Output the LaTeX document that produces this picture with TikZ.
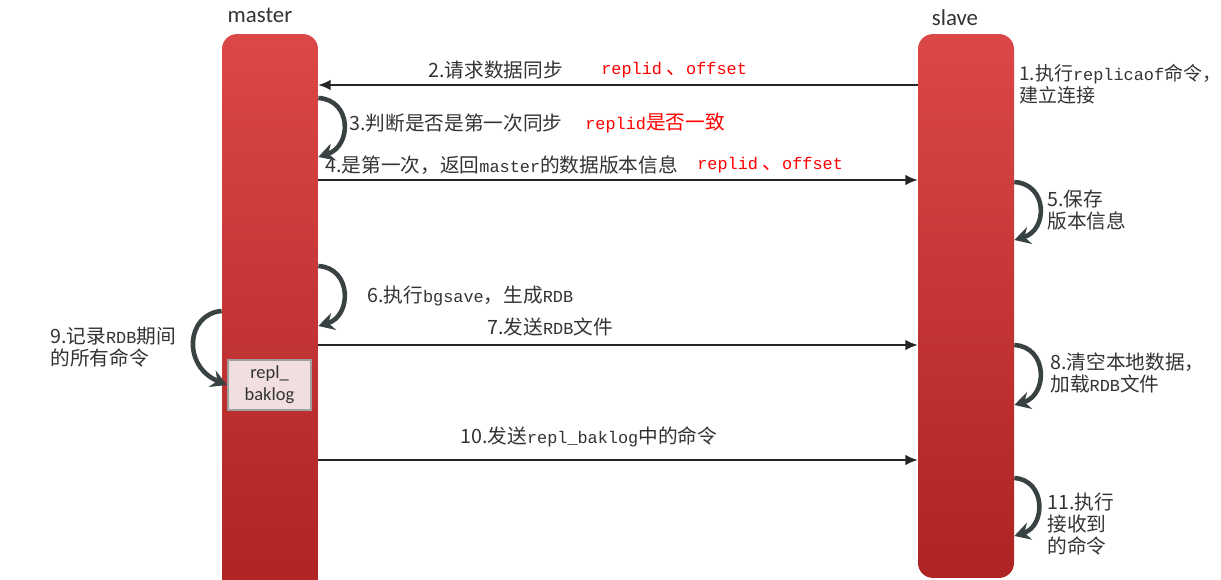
\documentclass[tikz,border=0pt]{standalone}
\usepackage{fontspec}
\setmainfont{Noto Sans CJK SC}
\setmonofont{Liberation Mono}
\newfontfamily\latfont{Carlito}
\usepackage{xcolor}
\usetikzlibrary{arrows.meta,positioning}
\definecolor{barTop}{HTML}{DC4747}
\definecolor{barBot}{HTML}{AE2323}
\definecolor{loopGray}{HTML}{394242}
\definecolor{logFill}{HTML}{F1DFDF}
\definecolor{txtGray}{HTML}{333333}
\newcommand{\mono}[1]{{\ttfamily\fontsize{9.6}{12}\selectfont #1}}

\begin{document}
\begin{tikzpicture}[
    x=0.02cm, y=-0.02cm,
    bar/.style={
      draw=none, rounded corners=0.3cm, inner sep=0pt,
      minimum width=1.92cm, top color=barTop, bottom color=barBot
    },
    role/.style={font=\latfont\fontsize{13}{15}\selectfont, text=txtGray},
    msg/.style={-{Latex[length=7pt,width=6pt]}, line width=0.9pt, draw=black!85},
    loop/.style={-{Stealth[length=9pt,width=10pt,inset=3pt]}, line width=2.6pt, draw=loopGray},
    lbl/.style={
      anchor=west, inner sep=0pt, align=left, text=txtGray,
      font=\fontsize{11.2}{12.6}\selectfont
    },
    note/.style={anchor=west, inner sep=0pt, text=red, font=\fontsize{11.2}{13}\selectfont},
    logbox/.style={
      draw=gray!75, line width=1.2pt, fill=logFill, align=center,
      minimum width=1.66cm, minimum height=1cm, inner sep=0pt,
      font=\latfont\fontsize{10.5}{12.5}\selectfont, text=txtGray
    }
  ]
    \useasboundingbox (0,0) rectangle (1221,580);

    \node[bar, minimum height=11.22cm] (master) at (270,314.5) {};
    \node[bar, minimum height=10.88cm] (slave) at (966,306) {};
    \node[role] (mastername) at (260,15) {master};
    \node[role] (slavename) at (955,18) {slave};
    \node[logbox] (baklog) at (269.5,385) {repl\_\\baklog};

    \node[lbl, font=\fontsize{10.8}{12.6}\selectfont] (s1) at (1019,84) {1.执行\mono{replicaof}命令，\\建立连接};
    \node[lbl] (s2) at (428,70) {2.请求数据同步};
    \node[note] (s2n) at (601,70) {\mono{replid} 、\mono{offset}};
    \node[lbl] (s3) at (349,123) {3.判断是否是第一次同步};
    \node[note] (s3n) at (585,123) {\mono{replid}是否一致};
    \node[lbl] (s4) at (325,165) {4.是第一次，返回\mono{master}的数据版本信息};
    \node[note] (s4n) at (697,165) {\mono{replid} 、\mono{offset}};
    \node[lbl] (s5) at (1047,210) {5.保存\\版本信息};
    \node[lbl] (s6) at (367,296) {6.执行\mono{bgsave}，生成\mono{RDB}};
    \node[lbl] (s7) at (487,327) {7.发送\mono{RDB}文件};
    \node[lbl] (s8) at (1050,373) {8.清空本地数据，\\加载\mono{RDB}文件};
    \node[lbl] (s9) at (50,347) {9.记录\mono{RDB}期间\\的所有命令};
    \node[lbl] (s10) at (460,437) {10.发送\mono{repl\_baklog}中的命令};
    \node[lbl] (s11) at (1047,524) {11.执行\\接收到\\的命令};

    \draw[msg] (slave.west |- 0,85) -- (master.east |- 0,85);
    \draw[msg] (master.east |- 0,180) -- (slave.west |- 0,180);
    \draw[msg] (master.east |- 0,345) -- (slave.west |- 0,345);
    \draw[msg] (master.east |- 0,460) -- (slave.west |- 0,460);

    \draw[loop] (master.east |- 0,98) .. controls (352,100) and (352,146) .. (master.east |- 0,157);
    \draw[loop] (slave.east |- 0,182) .. controls (1048,184) and (1048,230) .. (slave.east |- 0,240);
    \draw[loop] (master.east |- 0,266) .. controls (352,268) and (352,316) .. (master.east |- 0,326);
    \draw[loop] (master.west |- 0,311) .. controls (186,314) and (182,366) .. (baklog.west);
    \draw[loop] (slave.east |- 0,345) .. controls (1048,347) and (1048,395) .. (slave.east |- 0,405);
    \draw[loop] (slave.east |- 0,478) .. controls (1046,480) and (1046,526) .. (slave.east |- 0,536);
  \end{tikzpicture}
\end{document}
